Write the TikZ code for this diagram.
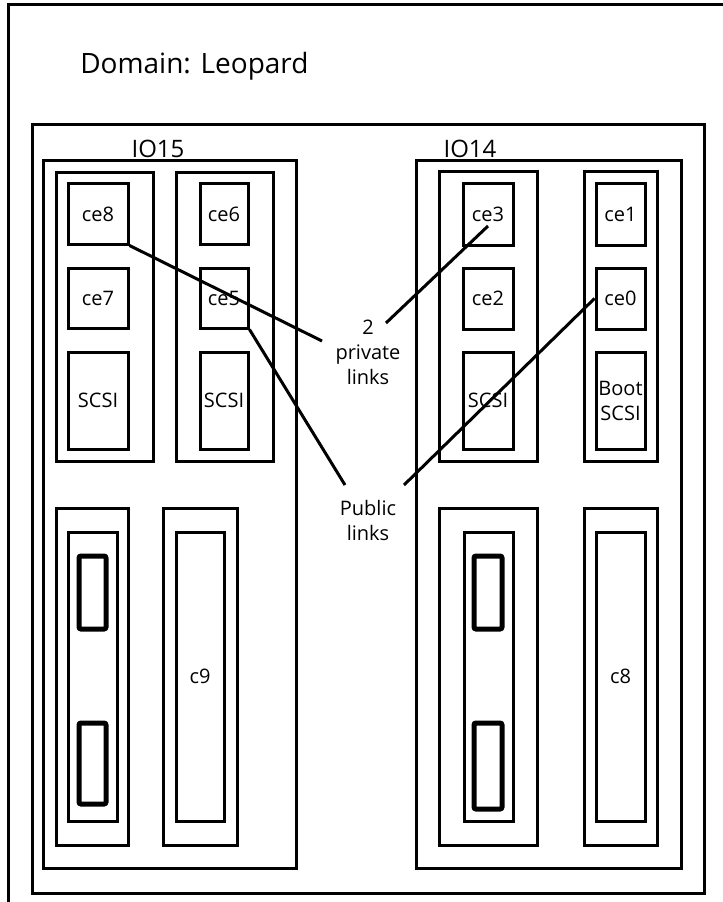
\documentclass[tikz,border=0pt]{standalone}
\usepackage{fontspec}
\setmainfont{Open Sans}
\tikzset{
  part/.style={shape=rectangle,draw=black,line width=2.25pt,inner sep=0pt,font=\fontsize{15}{18.75}\selectfont},
  slot/.style={shape=rectangle,draw=black,line width=3.75pt,rounded corners=1.5pt,inner sep=0pt},
  link/.style={draw=black,line width=2.25pt},
}
\begin{document}
\begin{tikzpicture}[x=0.75pt,y=-0.75pt]
        \useasboundingbox (0,0) rectangle (723,902);
        \clip (0,0) rectangle (723,902);
        % domain frame, cut by the page
        \draw[line width=2.25pt] (8,5) rectangle (760,940);
        \node[anchor=west,inner sep=0pt,font=\fontsize{21}{25}\selectfont] (domain) at (80,66) {Domain: Leopard};
        \node[part,minimum width=504pt,minimum height=576pt] (chassis) at (368,509) {};

        % IO15
        \node[part,minimum width=189.75pt,minimum height=530.25pt] (io15) at (169.5,514.5) {};
        \node[inner sep=0pt,font=\fontsize{18}{22}\selectfont] (io15-label) at (158,149) {IO15};
        \node[part,minimum width=72.75pt,minimum height=216pt] (io15-a) at (104.5,317) {};
        \node[part,minimum width=72.75pt,minimum height=216pt] (io15-b) at (224.5,317) {};
        \node[part,minimum width=45pt,minimum height=45pt] (ce8) at (98,214) {ce8};
        \node[part,minimum width=45pt,minimum height=45pt] (ce7) at (98,298) {ce7};
        \node[part,minimum width=45pt,minimum height=72.75pt] (scsi-a) at (98,400.5) {SCSI};
        \node[part,minimum width=36pt,minimum height=45pt] (ce6) at (224,214) {ce6};
        \node[part,minimum width=36pt,minimum height=45pt] (ce5) at (224,298) {ce5};
        \node[part,minimum width=36pt,minimum height=72.75pt] (scsi-b) at (224,400.5) {SCSI};
        \node[part,minimum width=54pt,minimum height=252.75pt] (io15-c) at (92,676.5) {};
        \node[part,minimum width=36.75pt,minimum height=216.75pt] (io15-cin) at (92.5,676.5) {};
        \node[slot,minimum width=20.25pt,minimum height=54.75pt] (io15-s1) at (92.5,592.5) {};
        \node[slot,minimum width=20.25pt,minimum height=60.75pt] (io15-s2) at (92.5,763.5) {};
        \node[part,minimum width=55.5pt,minimum height=252.75pt] (io15-d) at (200,676.5) {};
        \node[part,minimum width=36pt,minimum height=216.75pt] (c9) at (200,676.5) {c9};

        % IO14
        \node[part,minimum width=198.75pt,minimum height=530.25pt] (io14) at (548.5,514.5) {};
        \node[inner sep=0pt,font=\fontsize{18}{22}\selectfont] (io14-label) at (470,149) {IO14};
        \node[part,minimum width=73.5pt,minimum height=216.75pt] (io14-a) at (488,316.5) {};
        \node[part,minimum width=54.75pt,minimum height=216.75pt] (io14-b) at (620.5,316.5) {};
        \node[part,minimum width=37.5pt,minimum height=45.75pt] (ce3) at (488,214.5) {ce3};
        \node[part,minimum width=37.5pt,minimum height=45.75pt] (ce2) at (488,298.5) {ce2};
        \node[part,minimum width=37.5pt,minimum height=72.75pt] (scsi-c) at (488,400.5) {SCSI};
        \node[part,minimum width=36.75pt,minimum height=45.75pt] (ce1) at (620.5,214.5) {ce1};
        \node[part,minimum width=36.75pt,minimum height=45.75pt] (ce0) at (620.5,298.5) {ce0};
        \node[part,minimum width=36.75pt,minimum height=72.75pt,align=center] (boot) at (620.5,400.5) {Boot\\SCSI};
        \node[part,minimum width=73.5pt,minimum height=252.75pt] (io14-c) at (488,676.5) {};
        \node[part,minimum width=36.75pt,minimum height=216.75pt] (io14-cin) at (488.5,676.5) {};
        \node[slot,minimum width=21pt,minimum height=54.75pt] (io14-s1) at (488,592.5) {};
        \node[slot,minimum width=21pt,minimum height=64.5pt] (io14-s2) at (488,766) {};
        \node[part,minimum width=54.75pt,minimum height=252.75pt] (io14-d) at (620.5,676.5) {};
        \node[part,minimum width=36.75pt,minimum height=216.75pt] (c8) at (620.5,676.5) {c8};

        % links
        \node[align=center,inner sep=0pt,font=\fontsize{15}{18.75}\selectfont] (private) at (368,352) {2\\private\\links};
        \node[align=center,inner sep=0pt,font=\fontsize{15}{18.75}\selectfont] (public) at (368,520) {Public\\links};
        \coordinate (private-w) at (322,341);
        \coordinate (private-e) at (386,323);
        \coordinate (public-w) at (345,485);
        \coordinate (public-e) at (404,485);
        \coordinate (ce3-in) at (488,226);

        \path[link]
        (ce8.south east) edge (private-w)
        (private-e) edge (ce3-in)
        (ce5.south east) edge (public-w)
        (public-e) edge (ce0.west)
        ;
\end{tikzpicture}
\end{document}
